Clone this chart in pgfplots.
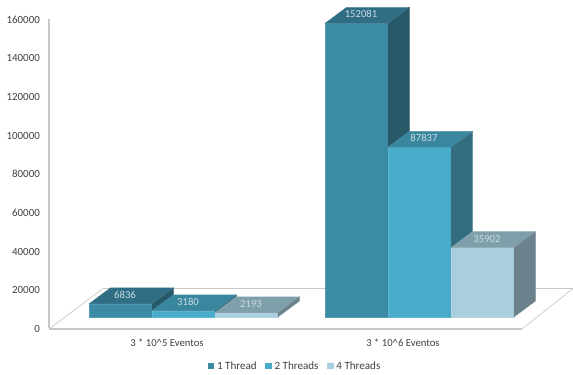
\documentclass[border=0pt]{standalone}
\usepackage{fontspec}
\setmainfont{Carlito}
\usepackage{pgfplots}
\pgfplotsset{compat=1.18}

% Face colours: front, top and side of each series
\definecolor{oneF}{HTML}{3C8BA6}
\definecolor{oneT}{HTML}{2F6E84}
\definecolor{oneS}{HTML}{275A69}
\definecolor{twoF}{HTML}{48ADCA}
\definecolor{twoT}{HTML}{39869F}
\definecolor{twoS}{HTML}{326E7F}
\definecolor{fourF}{HTML}{A9CFDF}
\definecolor{fourT}{HTML}{7F9FAA}
\definecolor{fourS}{HTML}{6B828C}
\definecolor{frameline}{HTML}{C8C8C8}
\definecolor{inktext}{HTML}{404040}
\definecolor{valuetext}{HTML}{CADBE1}

% Depth of the extrusion: 21.5 units across, 8285 value units up
\def\dx{21.5}
\def\dy{8285}
% Bars stand above the front edge of the floor by this many value units
\def\rise{5696}

% #1 left, #2 right, #3 value, #4 series prefix
\newcommand{\threedbar}[4]{%
  \addplot[forget plot, fill=#4F, draw=#4F!88!white, line width=0.25pt]
    coordinates {(#1,\rise) (#1,#3+\rise) (#2,#3+\rise) (#2,\rise)} -- cycle;
  \addplot[forget plot, fill=#4T, draw=#4T!85!white, line width=0.25pt]
    coordinates {(#1,#3+\rise) (#2,#3+\rise) (#2+\dx,#3+\rise+\dy) (#1+\dx,#3+\rise+\dy)} -- cycle;
  \addplot[forget plot, fill=#4S, draw=#4S!85!white, line width=0.25pt]
    coordinates {(#2,\rise) (#2,#3+\rise) (#2+\dx,#3+\rise+\dy) (#2+\dx,\rise+\dy)} -- cycle;
  \node[text=valuetext, font=\fontsize{8}{9}\selectfont]
    at (axis cs:#1+36,#3+\rise+4650) {#3};
}

\begin{document}
\begin{tikzpicture}[x=0.75pt,y=0.75pt]
\begin{axis}[
  scale only axis,
  width=393pt,
  height=231.75pt,
  xmin=49, xmax=573,
  ymin=0, ymax=160000,
  clip=false,
  axis x line=none,
  axis y line=left,
  y axis line style={-, draw=frameline, line width=1.1pt},
  ytick={0,20000,...,160000},
  ytick style={draw=none},
  scaled y ticks=false,
  yticklabel style={
    /pgf/number format/fixed,
    /pgf/number format/1000 sep={},
    /pgf/number format/assume math mode=true,
    font=\fontsize{8.2}{9}\selectfont, text=inktext, yshift=-0.6pt},
  yticklabel shift=1.2pt,
  legend columns=3,
  legend style={
    at={(axis cs:295.5,-19800)}, anchor=center, draw=none, fill=none,
    font=\fontsize{8.3}{9}\selectfont, text=inktext,
    inner sep=0pt,
    /tikz/every even column/.append style={column sep=4.6pt}},
  legend image code/.code={
    \fill[draw=none, #1] (0pt,-2.3pt) rectangle (4.8pt,2.3pt);
  },
]
% Floor of the plot
\addplot[forget plot, draw=frameline, line width=1.1pt]
  coordinates {(49,-500) (522,-500)};
\addplot[forget plot, draw=frameline, line width=0.8pt]
  coordinates {(103,20460) (573,20460)};
\addplot[forget plot, draw=frameline, line width=0.5pt]
  coordinates {(49,-500) (103,20460)};
\addplot[forget plot, draw=frameline, line width=0.5pt]
  coordinates {(522,-500) (573,20460)};

% 3 * 10^5 Eventos
\threedbar{89}{152}{6836}{one}
\threedbar{152}{215}{3180}{two}
\threedbar{215}{278}{2193}{four}
% 3 * 10^6 Eventos
\threedbar{325}{388}{152081}{one}
\threedbar{388}{451}{87837}{two}
\threedbar{451}{514}{35902}{four}

\addlegendimage{fill=oneF}
\addlegendentry{1 Thread}
\addlegendimage{fill=twoF}
\addlegendentry{2 Threads}
\addlegendimage{fill=fourF}
\addlegendentry{4 Threads}

\node[text=inktext, font=\fontsize{8}{9}\selectfont] at (axis cs:167,-7400) {3 * 10\^{}5 Eventos};
\node[text=inktext, font=\fontsize{8}{9}\selectfont] at (axis cs:403,-7400) {3 * 10\^{}6 Eventos};
\end{axis}
\pgfresetboundingbox
\path[use as bounding box] (-49,-46) rectangle (524,328);
\end{tikzpicture}
\end{document}
